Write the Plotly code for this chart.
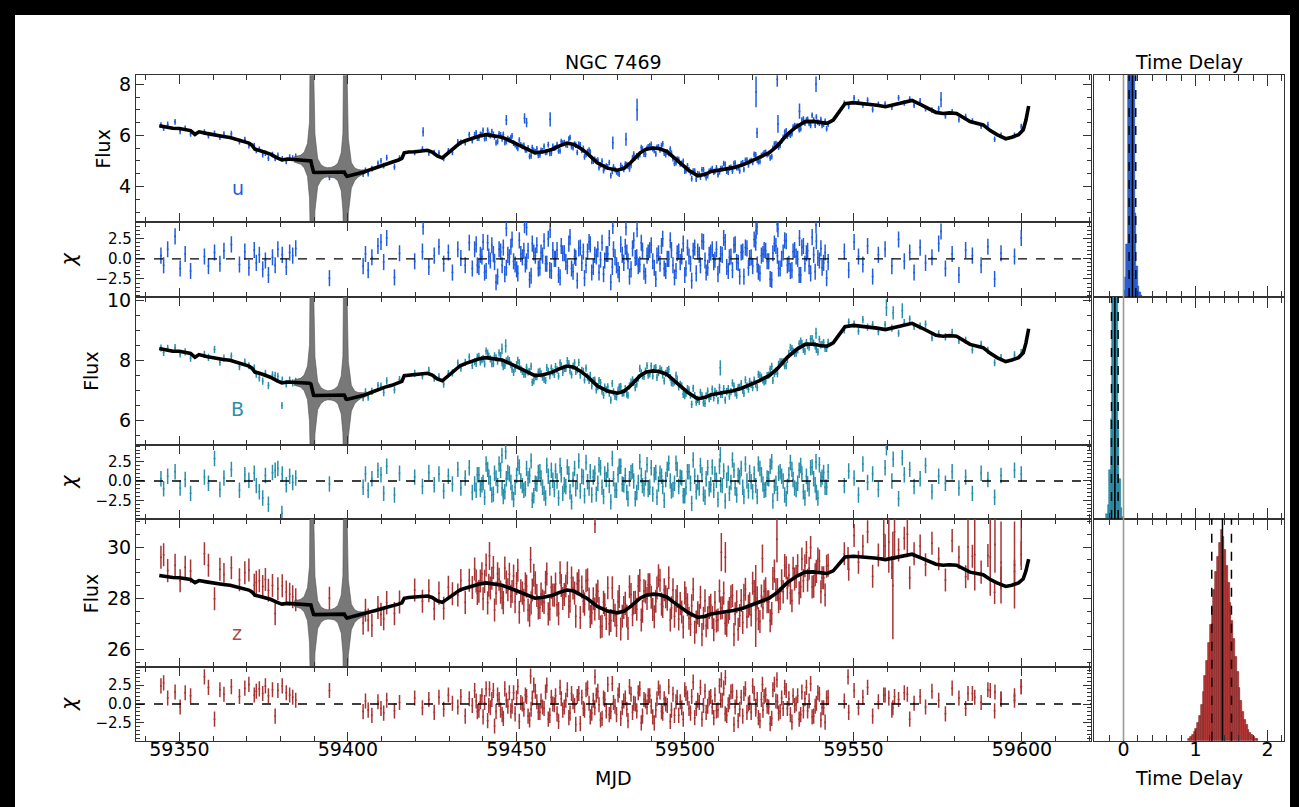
import plotly.graph_objects as go

W, H = 1299, 807
FONT = "DejaVu Sans"
AX = "#333333"

# ---------------- data: observation epochs (MJD) ----------------
T = [59344.5, 59345.3, 59346.5, 59348.7, 59350.2, 59351.7, 59353.3, 59357.4, 59358.6, 59360.4,
     59362.0, 59363.2, 59365.4, 59367.8, 59369.4, 59370.6, 59372.2, 59372.8, 59373.7, 59374.7,
     59375.5, 59376.4, 59377.6, 59378.4, 59379.2, 59380.5, 59381.7, 59382.7, 59383.6, 59384.5,
     59394.5,
     59404.5, 59405.2, 59406.0, 59407.1, 59408.9, 59409.8, 59410.6, 59411.5, 59413.8, 59415.3,
     59419.8, 59422.1, 59424.0, 59425.6, 59427.0, 59428.4, 59429.8, 59431.0, 59432.6, 59433.5,
     59434.8, 59436.0, 59436.9,
     59437.6, 59438.4, 59439.3, 59440.1, 59441.0, 59441.8, 59442.7, 59443.5, 59444.4, 59445.3,
     59446.1, 59447.0, 59447.9, 59448.7, 59449.6, 59450.4, 59451.3, 59452.2, 59453.0, 59453.9,
     59454.7, 59455.6, 59456.5, 59457.3, 59458.2, 59459.0, 59459.9, 59460.8, 59461.6, 59462.5,
     59463.3, 59464.2, 59465.1, 59465.9, 59466.8, 59467.6, 59468.5, 59469.4, 59470.2, 59471.1,
     59471.9, 59472.8, 59473.7, 59474.5, 59475.4, 59476.2, 59477.1, 59478.0, 59478.8, 59479.7,
     59480.5, 59481.4, 59482.3, 59483.1, 59484.0, 59484.8, 59485.7, 59486.6, 59487.4, 59488.3,
     59489.1, 59490.0, 59490.9, 59491.7, 59492.6, 59493.4, 59494.3, 59495.2, 59496.0, 59496.9,
     59497.7, 59498.6, 59499.5, 59500.3, 59501.2, 59502.0, 59502.9, 59503.8, 59504.6, 59505.5,
     59506.3, 59507.2, 59508.1, 59508.9, 59509.8, 59510.6, 59511.5, 59512.4, 59513.2, 59514.1,
     59514.9, 59515.8, 59516.7, 59517.5, 59518.4, 59519.2, 59520.1, 59521.0, 59521.8, 59522.7,
     59523.5, 59524.4, 59525.3, 59526.1, 59527.0, 59527.8, 59528.7, 59529.6, 59530.4, 59531.3,
     59532.1, 59533.0, 59533.9, 59534.7, 59535.6, 59536.4, 59537.3, 59538.2, 59539.0, 59539.9,
     59540.7, 59541.6, 59542.5,
     59547.3, 59548.6, 59550.2, 59551.5, 59552.8, 59554.2, 59555.7, 59557.4, 59559.4, 59561.4,
     59563.4, 59565.1, 59566.7, 59568.0, 59569.8, 59571.4, 59573.3, 59575.3, 59577.3, 59579.3,
     59581.3, 59583.3, 59585.3, 59587.9, 59589.9, 59591.9, 59593.8, 59597.8, 59599.8]
# second nightly visit during the intensive campaign
T2 = [59438.05, 59438.85, 59439.75, 59440.55, 59441.45, 59442.25, 59443.15, 59443.95, 59444.85, 59445.75,
      59446.55, 59447.45, 59448.35, 59449.15, 59450.05, 59450.85, 59451.75, 59452.65, 59453.45, 59454.35,
      59455.15, 59456.05, 59456.95, 59457.75, 59458.65, 59459.45, 59460.35, 59461.25, 59462.05, 59462.95,
      59463.75, 59464.65, 59465.55, 59466.35, 59467.25, 59468.05, 59468.95, 59469.85, 59470.65, 59471.55,
      59472.35, 59473.25, 59474.15, 59474.95, 59475.85, 59476.65, 59477.55, 59478.45, 59479.25, 59480.15,
      59480.95, 59481.85, 59482.75, 59483.55, 59484.45, 59485.25, 59486.15, 59487.05, 59487.85, 59488.75,
      59489.55, 59490.45, 59491.35, 59492.15, 59493.05, 59493.85, 59494.75, 59495.65, 59496.45, 59497.35,
      59498.15, 59499.05, 59499.95, 59500.75, 59501.65, 59502.45, 59503.35, 59504.25, 59505.05, 59505.95,
      59506.75, 59507.65, 59508.55, 59509.35, 59510.25, 59511.05, 59511.95, 59512.85, 59513.65, 59514.55,
      59515.35, 59516.25, 59517.15, 59517.95, 59518.85, 59519.65, 59520.55, 59521.45, 59522.25, 59523.15,
      59523.95, 59524.85, 59525.75, 59526.55, 59527.45, 59528.25, 59529.15, 59530.05, 59530.85, 59531.75,
      59532.55, 59533.45, 59534.35, 59535.15, 59536.05, 59536.85, 59537.75, 59538.65, 59539.45, 59540.35,
      59541.15, 59542.05]

# ---------------- u band ----------------
U_FLUX = [6.41, 6.28, 6.43, 6.53, 6.16, 6.28, 6.06, 6.13, 5.99, 6.08, 5.93, 6.05, 6.07, 5.76, 5.84,
          5.60, 5.60, 5.41, 5.46, 5.25, 5.31, 5.11, 5.25, 5.10, 5.22, 5.09, 4.98, 5.15, 5.11, 5.18,
          4.36,
          4.48, 4.64, 4.50, 4.70, 4.91, 5.01, 4.82, 5.13, 4.77, 5.11, 5.33, 5.47, 5.32, 5.33, 5.31,
          5.10, 5.40, 5.33, 5.75, 5.73, 5.72, 6.03, 5.79,
          6.03, 5.89, 6.04, 6.20, 5.89, 6.04, 6.15, 5.94, 5.76, 6.02,
          6.04, 5.76, 5.83, 5.98, 5.64, 5.49, 5.63, 5.61, 5.43, 5.18,
          5.53, 5.36, 5.22, 5.42, 5.57, 5.35, 5.30, 5.57, 5.52, 5.39,
          5.76, 5.72, 5.62, 5.92, 5.52, 5.62, 5.66, 5.41, 5.16, 5.37,
          5.35, 4.99, 5.00, 4.74, 5.00, 4.75, 4.77, 4.43, 4.77, 4.57,
          4.48, 4.74, 4.88, 4.80, 4.83, 5.27, 5.20, 5.25, 5.47, 5.26,
          5.55, 5.65, 5.41, 5.54, 5.43, 5.67, 5.25, 5.30, 5.31, 4.90,
          5.08, 4.89, 4.99, 4.62, 4.66, 4.31, 4.61, 4.50, 4.37, 4.66,
          4.35, 4.60, 4.70, 4.60, 4.46, 4.70, 4.90, 4.60, 4.73, 4.60,
          4.92, 4.74, 4.90, 4.67, 5.04, 4.98, 4.94, 5.24, 4.97, 5.21,
          5.32, 5.25, 5.12, 5.50, 5.68, 5.54, 5.79, 6.13, 5.97, 6.01,
          6.33, 6.36, 6.22, 6.60, 6.48, 6.63, 6.39, 6.60, 6.72, 6.48,
          6.39, 6.55, 6.44,
          7.26, 7.13, 7.47, 7.30, 7.19, 7.38, 7.01, 7.22, 7.23, 7.10, 7.47, 7.27, 7.42, 7.18, 7.35,
          7.05, 6.99, 7.05, 6.76, 6.92, 6.62, 6.74, 6.56, 6.36, 6.42, 5.85, 6.00, 6.00, 6.35]
U_CHI = [0.4, -0.8, 1.2, 2.8, -1.2, 0.6, -1.5, 0.3, -0.9, 0.8, -0.6, 1.0, 1.8, -0.7, 0.9,
         -1.1, 1.1, -0.5, 0.5, -1.3, -0.2, -2.0, 0.2, -0.8, 1.2, 0.5, -1.0, 0.8, 0.4, 1.3,
         -2.4,
         -0.9, 0.6, -1.4, 0.2, 1.6, 2.1, -0.4, 2.6, -2.3, 0.7, -0.3, 0.9, -1.0, 0.4, 1.5,
         -0.6, 0.8, -1.7, 1.2, 0.1, -0.8, 2.0, -1.2,
         1.2, -0.8, 0.5, 2.1, -1.5, 0.3, 1.7, -0.4, -2.2, 0.9,
         1.4, -1.1, 0.2, 2.4, -0.7, -1.8, 0.6, 1.0, -0.3, -2.6,
         1.9, 0.4, -1.2, 0.8, 2.2, -0.6, -1.4, 1.1, 0.0, -2.0,
         1.6, 0.7, -0.9, 2.7, -1.6, 0.1, 1.3, -0.5, -2.4, 0.9,
         1.8, -1.0, 0.3, -1.7, 2.0, -0.2, 0.6, -2.9, 1.2, -0.8,
         -1.9, 0.5, 1.5, -0.3, -1.3, 2.3, 0.2, -0.7, 1.0, -2.1,
         0.8, 1.7, -1.1, 0.4, -0.6, 2.5, -1.5, 0.0, 1.1, -2.3,
         0.7, -0.4, 1.9, -1.2, 0.3, -2.7, 1.4, 0.9, -0.8, 2.1,
         -1.7, 0.5, 1.2, -0.1, -1.9, 0.6, 2.6, -1.0, 0.2, -1.4,
         1.8, -0.5, 0.8, -2.2, 1.3, 0.1, -0.9, 2.0, -1.6, 0.4,
         1.1, -0.3, -2.5, 0.7, 1.6, -1.2, 0.0, 2.3, -0.8, -1.5,
         0.9, 0.3, -2.0, 1.4, -0.6, 1.0, -1.8, 0.5, 2.2, -0.2,
         -1.1, 0.8, -0.4,
         0.9, -1.4, 2.1, 0.3, -0.7, 1.6, -2.2, 0.5, 1.2, -0.9, 2.4, -0.3, 0.8, -1.7, 1.4,
         -0.5, 0.2, 1.9, -1.2, 0.6, -2.0, 1.1, 0.4, -0.8, 1.5, -2.5, 0.7, 0.3, 2.6]
U2_FLUX = [6.10, 5.89, 6.03, 5.87, 6.20, 5.99, 6.04, 5.71, 6.06, 5.86,
           5.72, 5.88, 5.92, 5.70, 5.56, 5.82, 5.57, 5.43, 5.52, 5.20,
           5.41, 5.48, 5.24, 5.40, 5.33, 5.64, 5.31, 5.50, 5.64, 5.39,
           5.70, 5.64, 5.86, 5.56, 5.66, 5.33, 5.63, 5.50, 5.26, 5.43,
           4.98, 5.07, 5.04, 4.85, 4.62, 4.80, 4.94, 4.59, 4.67, 4.52,
           4.83, 4.67, 4.86, 4.69, 5.12, 5.13, 5.16, 5.53, 5.27, 5.50,
           5.59, 5.48, 5.28, 5.55, 5.60, 5.31, 5.35, 5.47, 5.09, 4.93,
           5.06, 4.91, 4.60, 4.81, 4.54, 4.61, 4.29, 4.48, 4.66, 4.47,
           4.43, 4.64, 4.56, 4.73, 4.57, 4.71, 4.87, 4.56, 4.75, 4.90,
           4.74, 4.61, 4.93, 5.03, 4.85, 5.02, 5.26, 5.03, 4.98, 5.25,
           5.34, 5.29, 5.17, 5.66, 5.64, 5.61, 5.93, 6.18, 6.05, 6.07,
           6.39, 6.37, 6.26, 6.64, 6.60, 6.47, 6.79, 6.40, 6.52, 6.62,
           6.44, 6.26]
U2_CHI = [1.8, -1.0, 0.3, -1.7, 2.0, -0.2, 0.6, -2.9, 1.2, -0.8,
          -1.9, 0.5, 1.5, -0.3, -1.3, 2.3, 0.2, -0.7, 1.0, -2.1,
          0.8, 1.7, -1.1, 0.4, -0.6, 2.5, -1.5, 0.0, 1.1, -2.3,
          0.7, -0.4, 1.9, -1.2, 0.3, -2.7, 1.4, 0.9, -0.8, 2.1,
          -1.7, 0.5, 1.2, -0.1, -1.9, 0.6, 2.6, -1.0, 0.2, -1.4,
          1.8, -0.5, 0.8, -2.2, 1.3, 0.1, -0.9, 2.0, -1.6, 0.4,
          1.1, -0.3, -2.5, 0.7, 1.6, -1.2, 0.0, 2.3, -0.8, -1.5,
          0.9, 0.3, -2.0, 1.4, -0.6, 1.0, -1.8, 0.5, 2.2, -0.2,
          -1.1, 0.8, -0.4, 1.2, -0.8, 0.5, 2.1, -1.5, 0.3, 1.7,
          -0.4, -2.2, 0.9, 1.4, -1.1, 0.2, 2.4, -0.7, -1.8, 0.6,
          1.0, -0.3, -2.6, 1.9, 0.4, -1.2, 0.8, 2.2, -0.6, -1.4,
          1.1, 0.0, -2.0, 1.6, 0.7, -0.9, 2.7, -1.6, 0.1, 1.3,
          -0.5, -2.4]
U_ERR = 0.11
U_OUT_T = [59422.3, 59447.0, 59452.4, 59453.0, 59460.0, 59478.6, 59482.5, 59485.8, 59521.1, 59521.4,
           59527.4, 59527.6, 59534.0, 59538.9, 59576.0]
U_OUT_F = [6.14, 6.60, 6.67, 6.50, 6.63, 5.71, 5.85, 7.00, 7.70, 6.10, 8.20, 6.45, 6.95, 8.00, 7.40]
U_OUT_E = [0.18, 0.20, 0.20, 0.18, 0.28, 0.25, 0.25, 0.43, 0.60, 0.20, 0.30, 0.35, 0.30, 0.30, 0.30]
U_OUT_C = [4.0, 3.8, 4.2, 3.9, 3.6, 4.1, 3.9, 3.7, 3.5, 4.0, 4.3, 3.7, 2.6, 4.2, 3.4]

# ---------------- B band ----------------
B_FLUX = [8.41, 8.26, 8.40, 8.42, 8.21, 8.28, 8.07, 8.20, 8.10, 8.36, 7.94, 8.07, 8.14, 7.79, 7.94,
          7.82, 7.74, 7.54, 7.42, 7.31, 7.57, 7.16, 7.52, 7.50, 7.47, 7.34, 7.22, 7.34, 7.25, 7.30,
          6.80,
          6.76, 6.95, 6.78, 6.97, 7.16, 7.14, 6.93, 7.32, 7.02, 7.36, 7.57, 7.48, 7.67, 7.41, 7.45,
          7.21, 7.56, 7.58, 7.91, 7.74, 7.93, 8.11, 7.83,
          7.96, 8.11, 7.95, 8.06, 8.31, 8.13, 7.89, 8.15, 7.97, 8.16,
          7.79, 7.98, 7.99, 7.71, 7.73, 8.00, 7.71, 7.54, 7.77, 7.63,
          7.27, 7.46, 7.61, 7.55, 7.37, 7.76, 7.49, 7.62, 7.79, 7.48,
          7.82, 7.73, 7.99, 7.65, 7.80, 7.63, 7.93, 7.67, 7.35, 7.45,
          7.50, 7.33, 7.02, 7.33, 6.98, 7.11, 7.12, 6.68, 6.95, 6.79,
          7.11, 6.91, 7.06, 6.84, 7.28, 7.27, 7.22, 7.73, 7.48, 7.64,
          7.51, 7.81, 7.73, 7.43, 7.72, 7.52, 7.57, 7.70, 7.26, 7.28,
          7.38, 7.20, 6.87, 6.90, 7.02, 6.54, 6.83, 6.70, 6.94, 6.59,
          6.82, 6.73, 7.04, 6.97, 6.66, 6.87, 7.06, 6.96, 6.81, 7.25,
          6.92, 7.10, 7.23, 6.90, 7.15, 7.30, 7.09, 7.21, 7.53, 7.44,
          7.28, 7.49, 7.70, 7.33, 7.64, 7.87, 7.95, 7.82, 8.03, 8.43,
          8.30, 8.24, 8.55, 8.56, 8.30, 8.49, 8.71, 8.57, 8.36, 8.70,
          8.53, 8.40, 8.60,
          9.01, 9.27, 9.20, 8.97, 9.35, 9.10, 9.19, 8.95, 9.19, 9.07, 8.90, 9.25, 9.37, 9.13, 9.14,
          9.20, 8.75, 8.88, 8.78, 8.93, 8.66, 8.66, 8.35, 8.53, 8.33, 7.92, 8.09, 8.18, 8.26]
B_CHI = [0.3, -1.0, 0.6, 1.2, -0.9, 0.2, -1.6, 0.5, -0.3, 2.9, -1.1, 0.4, 1.5, -1.2, 0.8,
         0.1, 1.0, -0.6, -1.4, -2.2, 0.7, -3.0, 1.1, 1.4, 1.6, 0.9, -0.5, 0.6, -0.2, 0.4,
         -0.4,
         -0.8, 0.9, -1.2, 0.3, 1.4, 0.8, -1.6, 1.9, -1.8, 1.0, 0.5, -0.7, 1.1, -0.5, 0.9,
         -1.3, 0.6, -0.4, 1.5, -0.9, 0.4, 1.7, -1.5,
         -0.4, 0.8, -1.1, -0.2, 2.2, 0.5, -1.8, 1.0, -0.6, 1.4,
         -2.0, 0.3, 0.9, -1.5, -0.8, 2.3, 0.0, -1.2, 1.6, 0.7,
         -2.5, -0.3, 1.1, 0.4, -1.6, 2.0, -0.9, 0.1, 1.3, -2.2,
         0.8, -0.5, 1.8, -1.4, 0.2, -1.0, 2.6, 0.6, -1.9, -0.1,
         1.2, 0.5, -1.7, 2.1, -0.8, 0.9, 1.4, -2.7, 0.3, -1.2,
         1.9, -0.4, 0.7, -2.3, 1.1, 0.0, -1.5, 2.5, -0.6, 0.4,
         -1.1, 1.7, 0.8, -2.1, 1.0, -0.7, 0.2, 2.3, -1.3, -0.3,
         1.5, 0.5, -1.9, -0.8, 1.2, -2.9, 0.6, -0.2, 2.0, -1.7,
         0.3, -1.0, 1.8, 0.9, -2.4, -0.5, 1.3, 0.1, -1.6, 2.7,
         -0.9, 0.7, 1.6, -2.0, 0.0, 1.1, -1.4, -0.6, 2.2, 0.8,
         -1.2, 0.4, 1.9, -2.6, -0.3, 1.0, 0.6, -1.8, -0.7, 2.4,
         0.2, -1.1, 1.4, 0.9, -2.2, -0.4, 1.7, 0.3, -1.5, 2.1,
         0.5, -0.8, 1.2,
         -0.6, 1.3, 0.4, -1.8, 2.2, -0.2, 0.9, -1.1, 1.7, 0.0, -2.3, 0.8, 1.5, -0.7, 0.3,
         2.0, -1.4, 0.6, -0.3, 1.2, -0.9, 0.5, -1.6, 1.0, 0.2, -2.1, 0.7, 1.4, 0.9]
B2_FLUX = [7.90, 8.13, 8.02, 7.88, 8.24, 8.05, 7.89, 8.08, 8.25, 7.92,
           7.83, 8.04, 7.86, 7.60, 7.86, 7.92, 7.63, 7.54, 7.62, 7.80,
           7.32, 7.46, 7.63, 7.44, 7.33, 7.63, 7.74, 7.53, 7.68, 7.92,
           7.60, 7.73, 7.89, 7.52, 7.92, 7.69, 7.51, 7.63, 7.74, 7.33,
           7.15, 7.34, 7.13, 7.26, 6.84, 7.02, 6.91, 7.23, 6.80, 7.00,
           7.13, 6.92, 6.88, 7.15, 7.35, 7.09, 7.41, 7.58, 7.47, 7.82,
           7.55, 7.48, 7.76, 7.59, 7.67, 7.32, 7.66, 7.43, 7.24, 7.50,
           7.12, 7.15, 6.83, 7.06, 6.84, 7.07, 6.61, 6.64, 6.83, 6.57,
           6.98, 6.80, 6.75, 6.90, 7.10, 6.87, 6.68, 7.06, 6.96, 7.14,
           6.84, 7.10, 7.01, 7.35, 7.04, 7.20, 7.34, 7.09, 7.50, 7.34,
           7.32, 7.51, 7.80, 7.56, 7.56, 7.95, 7.95, 7.82, 8.23, 8.39,
           8.23, 8.35, 8.64, 8.36, 8.59, 8.44, 8.72, 8.48, 8.28, 8.51,
           8.59, 8.40]
B2_CHI = [-1.2, 0.8, -0.5, -2.1, 1.5, -0.3, -1.7, 0.4, 2.2, -0.9,
          -1.4, 1.1, -0.2, -2.4, 0.7, 1.8, -0.6, -1.0, 0.3, 2.6,
          -1.9, -0.4, 1.2, -0.8, -2.2, 0.6, 1.4, -1.1, 0.0, 2.0,
          -1.6, -0.7, 0.9, -2.7, 1.6, -0.1, -1.3, 0.5, 2.4, -0.9,
          -1.8, 1.0, -0.3, 1.7, -2.0, 0.2, -0.6, 2.9, -1.2, 0.8,
          1.9, -0.5, -1.5, 0.3, 1.3, -2.3, -0.2, 0.7, -1.0, 2.1,
          -0.8, -1.7, 1.1, -0.4, 0.6, -2.5, 1.5, 0.0, -1.1, 2.3,
          -0.7, 0.4, -1.9, 1.2, -0.3, 2.7, -1.4, -0.9, 0.8, -2.1,
          1.7, -0.5, -1.2, 0.1, 1.9, -0.6, -2.6, 1.0, -0.2, 1.4,
          -1.8, 0.5, -0.8, 2.2, -1.3, -0.1, 0.9, -2.0, 1.6, -0.4,
          -1.1, 0.3, 2.5, -0.7, -1.6, 1.2, 0.0, -2.3, 0.8, 1.5,
          -0.9, -0.3, 2.0, -1.4, 0.6, -1.0, 1.8, -0.5, -2.2, 0.2,
          1.1, -0.8]
B_ERR = 0.12
B_OUT_T = [59380.4, 59445.7, 59446.8, 59510.5, 59538.9, 59559.8, 59561.8, 59564.5]
B_OUT_F = [6.50, 8.38, 8.48, 7.75, 8.90, 9.75, 9.58, 9.65]
B_OUT_E = [0.12, 0.18, 0.22, 0.25, 0.18, 0.28, 0.22, 0.25]
B_OUT_C = [-4.2, 3.3, 3.8, 3.4, 2.5, 4.3, 2.8, 3.0]

# ---------------- z band ----------------
Z_FLUX = [29.60, 29.70, 29.08, 29.29, 28.68, 29.21, 29.06, 29.74, 29.29, 27.98, 29.13, 28.93, 29.19,
          28.72, 29.00, 29.10, 28.51, 28.62, 28.68, 28.46, 28.73, 28.31, 28.50, 27.40, 28.37, 28.49,
          28.24, 28.16, 28.06, 27.94,
          28.00,
          27.02, 27.53, 27.15, 26.94, 27.64, 27.37, 27.20, 27.83, 27.40, 27.85, 28.32, 27.88, 28.29,
          27.59, 28.20, 27.61, 28.43, 28.18, 28.13, 28.69, 27.84, 28.70, 28.42,
          29.14, 28.19, 28.67, 27.98, 29.30, 28.51, 28.78, 27.54, 28.96, 28.24,
          27.83, 28.63, 28.94, 28.26, 27.86, 29.09, 28.29, 27.92, 28.47, 27.34,
          28.32, 28.60, 27.62, 28.17, 27.84, 28.95, 27.57, 28.13, 28.56, 27.40,
          28.50, 28.15, 28.99, 27.88, 28.40, 27.30, 28.68, 28.44, 27.77, 28.72,
          27.29, 27.98, 28.13, 27.60, 26.91, 27.75, 28.41, 27.13, 27.52, 26.94,
          28.07, 27.30, 27.80, 26.82, 28.15, 27.83, 27.57, 28.69, 27.49, 28.25,
          28.53, 28.04, 27.28, 28.40, 28.70, 27.68, 28.06, 28.80, 27.63, 27.30,
          28.07, 27.79, 26.88, 28.00, 27.22, 27.71, 26.67, 27.43, 28.04, 27.22,
          26.93, 27.64, 27.25, 27.83, 27.15, 27.62, 28.20, 26.95, 27.60, 28.11,
          27.39, 26.79, 27.91, 28.12, 27.28, 27.78, 28.59, 27.54, 27.20, 28.09,
          28.27, 27.86, 27.12, 28.77, 28.33, 27.86, 28.68, 29.28, 28.40, 28.21,
          29.17, 28.85, 28.21, 29.53, 29.27, 28.70, 29.98, 28.47, 29.05, 29.45,
          28.80, 28.13, 29.29,
          29.74, 29.13, 30.45, 29.41, 30.03, 30.60, 28.86, 29.69, 30.05, 29.20, 29.89, 30.34, 28.80,
          29.74, 30.04, 29.31, 30.15, 29.54, 28.71, 30.25, 29.60, 28.84, 29.64, 29.02, 29.67, 28.23,
          28.79, 29.05, 29.71]
Z_CHI = [2.4, 2.8, 0.8, 1.6, -0.4, 1.5, 1.1, 3.6, 2.2, -2.0, 1.9, 1.3, 2.3, 1.0, 2.1,
         2.6, 1.2, 1.7, 2.0, 1.4, 2.4, 1.1, 1.9, -1.6, 1.8, 2.4, 1.5, 1.2, 0.9, 0.5,
         1.8,
         -1.0, 0.4, -0.8, -1.5, 0.3, -0.6, -1.2, 0.5, -0.9, 0.2, 0.8, -0.5, 0.6, -1.1, 0.9,
         -0.7, 1.2, 0.1, -0.4, 1.0, -1.6, 0.7, -0.2,
         1.8, -1.0, 0.3, -1.7, 2.0, -0.2, 0.6, -2.9, 1.2, -0.8,
         -1.9, 0.5, 1.5, -0.3, -1.3, 2.3, 0.2, -0.7, 1.0, -2.1,
         0.8, 1.7, -1.1, 0.4, -0.6, 2.5, -1.5, 0.0, 1.1, -2.3,
         0.7, -0.4, 1.9, -1.2, 0.3, -2.7, 1.4, 0.9, -0.8, 2.1,
         -1.7, 0.5, 1.2, -0.1, -1.9, 0.6, 2.6, -1.0, 0.2, -1.4,
         1.8, -0.5, 0.8, -2.2, 1.3, 0.1, -0.9, 2.0, -1.6, 0.4,
         1.1, -0.3, -2.5, 0.7, 1.6, -1.2, 0.0, 2.3, -0.8, -1.5,
         0.9, 0.3, -2.0, 1.4, -0.6, 1.0, -1.8, 0.5, 2.2, -0.2,
         -1.1, 0.8, -0.4, 1.2, -0.8, 0.5, 2.1, -1.5, 0.3, 1.7,
         -0.4, -2.2, 0.9, 1.4, -1.1, 0.2, 2.4, -0.7, -1.8, 0.6,
         1.0, -0.3, -2.6, 1.9, 0.4, -1.2, 0.8, 2.2, -0.6, -1.4,
         1.1, 0.0, -2.0, 1.6, 0.7, -0.9, 2.7, -1.6, 0.1, 1.3,
         -0.5, -2.4, 0.9,
         0.4, -1.1, 1.8, -0.5, 0.9, 2.2, -1.6, 0.3, 1.2, -0.8, 0.6, 1.5, -2.0, 0.1, 1.0,
         -0.4, 1.7, 0.5, -1.3, 2.1, 0.8, -0.6, 1.4, 0.2, 1.9, -0.9, 0.6, 1.1, 2.3]
Z2_FLUX = [28.67, 28.27, 28.96, 28.66, 27.82, 28.40, 29.20, 28.20, 28.74, 28.02,
           29.18, 28.33, 28.08, 28.87, 28.58, 27.45, 28.20, 28.57, 27.54, 27.82,
           28.90, 28.11, 27.64, 27.90, 28.62, 27.39, 28.43, 28.12, 27.74, 29.00,
           27.99, 28.48, 27.68, 28.79, 28.20, 28.57, 27.25, 27.88, 28.68, 27.97,
           27.43, 27.58, 28.27, 26.88, 27.84, 27.21, 27.00, 28.41, 27.34, 27.86,
           26.80, 27.64, 27.31, 28.45, 27.36, 27.84, 28.47, 27.15, 28.29, 27.99,
           28.53, 27.56, 27.88, 28.88, 27.77, 28.33, 27.96, 27.15, 28.33, 27.90,
           27.19, 27.46, 28.21, 27.75, 26.98, 28.35, 27.07, 27.33, 26.58, 27.90,
           27.24, 27.73, 26.77, 27.11, 28.28, 27.63, 27.02, 27.45, 28.06, 26.58,
           27.86, 27.33, 27.05, 28.35, 27.69, 27.35, 28.26, 28.02, 27.09, 27.62,
           28.37, 27.86, 27.40, 29.06, 28.34, 27.99, 28.25, 29.19, 28.90, 27.90,
           28.75, 29.27, 28.45, 28.68, 29.79, 29.17, 28.44, 28.92, 29.53, 28.25,
           28.80, 29.25]
Z2_CHI = [0.4, -0.8, 1.1, 0.2, -2.2, -0.5, 1.8, -1.0, 0.6, -1.4,
          2.0, -0.3, -0.9, 1.5, 0.8, -2.3, 0.0, 1.2, -1.6, -0.7,
          2.5, 0.3, -1.1, -0.4, 1.6, -2.0, 0.9, -0.1, -1.3, 2.2,
          -0.8, 0.5, -1.8, 1.4, -0.2, 1.0, -2.6, -0.6, 1.9, 0.1,
          -1.2, -0.5, 1.7, -2.1, 0.8, -0.9, -1.4, 2.7, -0.3, 1.2,
          -1.9, 0.4, -0.7, 2.3, -1.1, 0.0, 1.5, -2.5, 0.6, -0.4,
          1.1, -1.7, -0.8, 2.1, -1.0, 0.7, -0.2, -2.3, 1.3, 0.3,
          -1.5, -0.5, 1.9, 0.8, -1.2, 2.9, -0.6, 0.2, -2.0, 1.7,
          -0.3, 1.0, -1.8, -0.9, 2.4, 0.5, -1.3, -0.1, 1.6, -2.7,
          0.9, -0.7, -1.6, 2.0, 0.0, -1.1, 1.4, 0.6, -2.2, -0.8,
          1.2, -0.4, -1.9, 2.6, 0.3, -1.0, -0.6, 1.8, 0.7, -2.4,
          -0.2, 1.1, -1.4, -0.9, 2.2, 0.4, -1.7, -0.3, 1.5, -2.1,
          -0.5, 0.8]
Z_ERR = 0.45
Z_OUT_T = [59442.0, 59454.2, 59473.3, 59510.8, 59512.0, 59521.0, 59523.0, 59527.3, 59548.4, 59559.0,
           59560.5, 59561.7, 59562.2, 59566.0, 59584.0, 59586.0, 59590.6, 59592.0, 59593.8, 59597.8,
           59599.8]
Z_OUT_F = [29.65, 29.5, 30.9, 29.8, 29.6, 27.7, 29.55, 30.3, 29.55, 30.5, 30.2, 28.5, 30.6, 30.5,
           30.0, 29.7, 29.6, 30.1, 29.4, 29.3, 30.2]
Z_OUT_E = [0.55, 0.5, 0.35, 0.75, 0.6, 1.6, 0.55, 0.9, 0.45, 1.0, 1.2, 2.1, 1.1, 0.9, 1.3, 1.4,
           1.5, 1.1, 1.6, 1.7, 1.1]
Z_OUT_C = [2.0, 3.7, 3.6, 3.2, 3.5, -0.3, 2.6, 3.2, 3.6, 1.2, 0.8, -0.5, 1.0, 1.3, 1.4, 0.9,
           1.8, 1.6, 0.7, 0.5, 2.3]

# ---------------- model (mean light curve) ----------------
MODEL_T = [59344.0, 59346.0, 59348.0, 59350.0, 59352.0, 59353.3, 59354.6, 59355.8, 59358.0, 59360.0,
           59363.0, 59365.0, 59367.0, 59369.0, 59370.6, 59371.5, 59372.4, 59374.0, 59377.0, 59379.0,
           59380.4, 59382.0, 59384.0, 59386.0, 59387.0, 59388.0, 59388.6, 59389.0, 59389.25, 59389.4,
           59389.55, 59389.8, 59390.2, 59391.0, 59392.0, 59393.0, 59394.0, 59395.0, 59396.0, 59397.0,
           59398.0, 59398.5, 59398.9, 59399.15, 59399.3, 59399.45, 59399.7, 59400.1, 59401.0, 59402.0,
           59403.0, 59404.0, 59405.0, 59407.0, 59409.0, 59411.0, 59413.0, 59415.0, 59416.0, 59416.7,
           59418.0, 59420.0, 59422.0, 59423.6, 59425.0, 59426.5, 59428.0, 59429.6, 59431.0, 59433.3,
           59435.0, 59437.0, 59439.0, 59441.0, 59443.0, 59445.7, 59448.0, 59450.5, 59453.0, 59455.5,
           59458.0, 59460.5, 59463.0, 59465.0, 59467.0, 59469.0, 59471.0, 59474.0, 59477.0, 59480.0,
           59482.0, 59484.0, 59486.7, 59488.5, 59490.7, 59492.5, 59494.6, 59496.5, 59498.5, 59501.0,
           59503.8, 59506.0, 59507.8, 59511.0, 59514.4, 59517.0, 59519.8, 59522.0, 59525.0, 59527.5,
           59530.3, 59533.0, 59535.7, 59538.0, 59540.0, 59542.2, 59544.0, 59545.0, 59546.5, 59547.5,
           59550.0, 59554.2, 59557.0, 59559.5, 59562.0, 59565.0, 59567.4, 59570.0, 59572.7, 59574.5,
           59576.6, 59578.5, 59580.6, 59582.5, 59584.6, 59588.5, 59590.5, 59592.6, 59595.2, 59597.0,
           59599.0, 59600.4, 59601.2, 59602.0]
U_MODEL = [6.38, 6.32, 6.28, 6.27, 6.22, 6.19, 6.04, 6.14, 6.08, 6.02,
           5.96, 5.92, 5.85, 5.78, 5.70, 5.62, 5.46, 5.40, 5.27, 5.12,
           5.04, 5.08, 5.06, 5.05, 5.04, 5.04, 5.03, 5.00, 4.85, 4.75,
           4.60, 4.56, 4.55, 4.55, 4.55, 4.56, 4.56, 4.56, 4.57, 4.57,
           4.58, 4.58, 4.57, 4.50, 4.45, 4.41, 4.40, 4.41, 4.44, 4.48,
           4.52, 4.55, 4.58, 4.68, 4.78, 4.88, 4.95, 5.04, 5.10, 5.32,
           5.35, 5.36, 5.39, 5.42, 5.35, 5.20, 5.12, 5.31, 5.48, 5.71,
           5.80, 5.90, 5.98, 6.03, 5.99, 5.93, 5.80, 5.64, 5.46, 5.32,
           5.36, 5.45, 5.60, 5.70, 5.65, 5.50, 5.30, 4.93, 4.72, 4.64,
           4.72, 4.95, 5.32, 5.46, 5.51, 5.48, 5.38, 5.15, 4.94, 4.65,
           4.42, 4.48, 4.59, 4.66, 4.74, 4.84, 5.00, 5.12, 5.32, 5.60,
           6.03, 6.33, 6.54, 6.55, 6.50, 6.47, 6.60, 6.79, 7.10, 7.24,
           7.28, 7.24, 7.18, 7.12, 7.20, 7.30, 7.37, 7.20, 7.00, 6.90,
           6.86, 6.88, 6.86, 6.70, 6.54, 6.41, 6.20, 6.03, 5.87, 5.93,
           6.03, 6.22, 6.60, 7.15]
B_MODEL = [8.39, 8.34, 8.30, 8.30, 8.25, 8.23, 8.10, 8.19, 8.13, 8.08,
           8.03, 8.00, 7.94, 7.88, 7.81, 7.74, 7.61, 7.56, 7.44, 7.32,
           7.25, 7.28, 7.26, 7.26, 7.25, 7.25, 7.24, 7.21, 7.09, 7.00,
           6.87, 6.84, 6.83, 6.83, 6.83, 6.84, 6.84, 6.84, 6.85, 6.85,
           6.85, 6.85, 6.85, 6.79, 6.74, 6.71, 6.70, 6.71, 6.74, 6.77,
           6.80, 6.83, 6.85, 6.94, 7.03, 7.11, 7.17, 7.25, 7.30, 7.49,
           7.51, 7.52, 7.55, 7.57, 7.51, 7.38, 7.32, 7.48, 7.62, 7.82,
           7.90, 7.98, 8.05, 8.09, 8.06, 8.01, 7.90, 7.76, 7.61, 7.49,
           7.52, 7.60, 7.73, 7.81, 7.77, 7.64, 7.47, 7.15, 6.98, 6.91,
           6.98, 7.17, 7.49, 7.61, 7.65, 7.62, 7.54, 7.34, 7.16, 6.92,
           6.72, 6.77, 6.86, 6.92, 6.99, 7.08, 7.21, 7.32, 7.49, 7.73,
           8.09, 8.35, 8.53, 8.54, 8.49, 8.47, 8.58, 8.74, 9.00, 9.12,
           9.16, 9.12, 9.07, 9.02, 9.09, 9.17, 9.23, 9.09, 8.92, 8.83,
           8.80, 8.82, 8.80, 8.66, 8.53, 8.42, 8.24, 8.09, 7.96, 8.01,
           8.09, 8.25, 8.58, 9.05]
Z_MODEL = [28.89, 28.84, 28.81, 28.80, 28.76, 28.73, 28.61, 28.69, 28.64, 28.59,
           28.54, 28.51, 28.45, 28.39, 28.32, 28.25, 28.12, 28.07, 27.96, 27.84,
           27.77, 27.80, 27.79, 27.78, 27.77, 27.77, 27.76, 27.74, 27.61, 27.53,
           27.40, 27.37, 27.36, 27.36, 27.36, 27.37, 27.37, 27.37, 27.38, 27.38,
           27.38, 27.38, 27.38, 27.32, 27.27, 27.24, 27.23, 27.24, 27.27, 27.30,
           27.33, 27.36, 27.38, 27.47, 27.55, 27.63, 27.69, 27.77, 27.82, 28.00,
           28.03, 28.04, 28.06, 28.09, 28.03, 27.90, 27.84, 27.99, 28.14, 28.33,
           28.40, 28.49, 28.56, 28.60, 28.56, 28.51, 28.40, 28.27, 28.12, 28.00,
           28.04, 28.11, 28.24, 28.32, 28.28, 28.15, 27.99, 27.68, 27.50, 27.43,
           27.50, 27.69, 28.00, 28.12, 28.16, 28.14, 28.05, 27.86, 27.68, 27.44,
           27.25, 27.30, 27.39, 27.45, 27.52, 27.60, 27.74, 27.84, 28.00, 28.24,
           28.60, 28.85, 29.02, 29.03, 28.99, 28.97, 29.07, 29.23, 29.49, 29.61,
           29.64, 29.61, 29.56, 29.51, 29.58, 29.66, 29.72, 29.58, 29.41, 29.33,
           29.29, 29.31, 29.29, 29.16, 29.02, 28.92, 28.74, 28.60, 28.46, 28.51,
           28.60, 28.76, 29.07, 29.53]

# model uncertainty (half width) across the seasonal gap 59384-59405
GAP_START, GAP_END = 59384.0, 59405.0
U_GAP_HW = [0.10, 0.18, 0.30, 0.65, 1.50, 4.2, 12, 12, 12, 4.2, 1.50, 0.55, 0.30, 0.21, 0.18, 0.19,
            0.23, 0.34, 0.74, 1.50, 4.2, 12, 12, 12, 4.2, 1.48, 0.50, 0.25, 0.15, 0.10, 0.08]
B_GAP_HW = [0.085, 0.15, 0.26, 0.56, 1.28, 3.6, 10, 10, 10, 3.6, 1.28, 0.47, 0.26, 0.18, 0.15, 0.16,
            0.2, 0.29, 0.63, 1.28, 3.6, 10, 10, 10, 3.6, 1.26, 0.43, 0.21, 0.13, 0.085, 0.07]
Z_GAP_HW = [0.10, 0.18, 0.30, 0.65, 1.50, 4.2, 12, 12, 12, 4.2, 1.50, 0.55, 0.30, 0.21, 0.18, 0.19,
            0.23, 0.34, 0.74, 1.50, 4.2, 12, 12, 12, 4.2, 1.48, 0.50, 0.25, 0.15, 0.10, 0.08]

# ---------------- time-delay posteriors ----------------
U_HIST_X = [0.01, 0.03, 0.05, 0.07, 0.09, 0.11, 0.13, 0.15, 0.17, 0.19, 0.21, 0.23, 0.25]
U_HIST_Y = [3, 9, 24, 140, 260, 330, 310, 160, 38, 14, 5, 2, 1]
B_HIST_X = [-0.23, -0.21, -0.19, -0.17, -0.15, -0.13, -0.11, -0.09, -0.07, -0.05, -0.03, -0.01]
B_HIST_Y = [2, 6, 22, 45, 200, 330, 320, 190, 40, 18, 5, 1]
Z_HIST_X = [0.9125, 0.9375, 0.9625, 0.9875, 1.0125, 1.0375, 1.0625, 1.0875, 1.1125, 1.1375,
            1.1625, 1.1875, 1.2125, 1.2375, 1.2625, 1.2875, 1.3125, 1.3375, 1.3625, 1.3875,
            1.4125, 1.4375, 1.4625, 1.4875, 1.5125, 1.5375, 1.5625, 1.5875, 1.6125, 1.6375,
            1.6625, 1.6875, 1.7125, 1.7375, 1.7625, 1.7875, 1.8125, 1.8375, 1.8625]
Z_HIST_Y = [1, 1.5, 2.5, 4, 5.5, 8, 11, 16, 22, 29, 36, 44, 52, 60, 68, 76, 83, 89, 95, 92,
            86, 79, 71, 62, 54, 46, 38, 31, 24, 18, 13, 9.5, 7, 5, 3.5, 2.5, 1.5, 1, 0.6]
U_DELAY = [0.078, 0.125, 0.17]      # 16th, 50th, 84th percentile
B_DELAY = [-0.167, -0.12, -0.075]
Z_DELAY = [1.226, 1.375, 1.5]

for lst in (U_FLUX, U_CHI, B_FLUX, B_CHI, Z_FLUX, Z_CHI):
    assert len(lst) == len(T), len(lst)
for lst in (U2_FLUX, U2_CHI, B2_FLUX, B2_CHI, Z2_FLUX, Z2_CHI):
    assert len(lst) == len(T2), len(lst)
for lst in (U_MODEL, B_MODEL, Z_MODEL):
    assert len(lst) == len(MODEL_T)

# ---------------- styling / layout (pixel geometry) ----------------
U_COL, B_COL, Z_COL = "#1f5ce0", "#2a8fab", "#a83434"
LEFT = (136, 1091)
RIGHT = (1094, 1284)
ROWS = [(68, 216), (216, 292), (292, 441), (441, 516), (516, 666), (666, 740)]
HROWS = [(68, 292), (292, 516), (516, 740)]


def pxx(x):
    return x / W


def pxy(y):
    return 1 - y / H


def xdom(a):
    return [pxx(a[0]), pxx(a[1])]


def ydom(r):
    return [pxy(r[1]), pxy(r[0])]


def ax_name(i, kind):
    return kind if i == 1 else f"{kind}{i}"


fig = go.Figure()

bands = [
    (U_FLUX, U_CHI, U2_FLUX, U2_CHI, U_ERR, U_OUT_T, U_OUT_F, U_OUT_E, U_OUT_C, U_MODEL, U_GAP_HW, U_COL),
    (B_FLUX, B_CHI, B2_FLUX, B2_CHI, B_ERR, B_OUT_T, B_OUT_F, B_OUT_E, B_OUT_C, B_MODEL, B_GAP_HW, B_COL),
    (Z_FLUX, Z_CHI, Z2_FLUX, Z2_CHI, Z_ERR, Z_OUT_T, Z_OUT_F, Z_OUT_E, Z_OUT_C, Z_MODEL, Z_GAP_HW, Z_COL),
]

gap_idx = [i for i, t in enumerate(MODEL_T) if GAP_START <= t <= GAP_END]
gap_t = [MODEL_T[i] for i in gap_idx]

for k, (flux, chi, flux2, chi2, err, ot, of, oe, oc, model, hw, col) in enumerate(bands):
    fi, ci = 2 * k + 1, 2 * k + 2
    xf, yf = ax_name(fi, "x"), ax_name(fi, "y")
    xc, yc = ax_name(ci, "x"), ax_name(ci, "y")
    eb = dict(color=col, thickness=1.5, width=0)
    mk = dict(size=2, color=col)
    for tx, fy in ((T, flux), (T2, flux2)):
        fig.add_trace(go.Scatter(x=tx, y=fy, mode="markers", marker=mk,
                                 error_y=dict(type="constant", value=err, **eb),
                                 xaxis=xf, yaxis=yf, hoverinfo="skip"))
    fig.add_trace(go.Scatter(x=ot, y=of, mode="markers", marker=mk,
                             error_y=dict(type="data", array=oe, **eb),
                             xaxis=xf, yaxis=yf, hoverinfo="skip"))
    gm = [model[i] for i in gap_idx]
    up = [m + w for m, w in zip(gm, hw)]
    lo = [m - w for m, w in zip(gm, hw)]
    fig.add_trace(go.Scatter(x=gap_t + gap_t[::-1], y=up + lo[::-1], mode="lines",
                             fill="toself", fillcolor="rgba(105,105,105,0.9)",
                             line=dict(color="rgba(80,80,80,1)", width=0.6),
                             xaxis=xf, yaxis=yf, hoverinfo="skip"))
    fig.add_trace(go.Scatter(x=MODEL_T, y=model, mode="lines", line=dict(color="black", width=3.6),
                             xaxis=xf, yaxis=yf, hoverinfo="skip"))
    for tx, cy in ((T, chi), (T2, chi2), (ot, oc)):
        fig.add_trace(go.Scatter(x=tx, y=cy, mode="markers", marker=mk,
                                 error_y=dict(type="constant", value=1.0, **eb),
                                 xaxis=xc, yaxis=yc, hoverinfo="skip"))

hists = [
    (U_HIST_X, U_HIST_Y, 0.02, U_DELAY, "#2a63dc", "#1b4fc0", [0, 100]),
    (B_HIST_X, B_HIST_Y, 0.02, B_DELAY, "#3196b0", "#1f7a93", [0, 100]),
    (Z_HIST_X, Z_HIST_Y, 0.025, Z_DELAY, "#b83b3b", "#7e2020", [0, 100]),
]
shapes = [dict(type="rect", xref="paper", yref="paper", x0=pxx(15), x1=pxx(1290),
               y0=pxy(807), y1=pxy(7), fillcolor="white", line=dict(width=0), layer="below")]
for j, (hx, hy, bw, dl, fc, lc, yr) in enumerate(hists):
    i = 7 + j
    xa, ya = ax_name(i, "x"), ax_name(i, "y")
    fig.add_trace(go.Bar(x=hx, y=hy, width=bw, marker=dict(color=fc, line=dict(color=lc, width=0.6)),
                         xaxis=xa, yaxis=ya, hoverinfo="skip"))
    shapes.append(dict(type="line", xref=xa, yref=f"{ya} domain", x0=0, x1=0, y0=0, y1=1,
                       line=dict(color="#9a9a9a", width=1.6)))
    for v, dash in ((dl[0], "dash"), (dl[1], "solid"), (dl[2], "dash")):
        shapes.append(dict(type="line", xref=xa, yref=f"{ya} domain", x0=v, x1=v, y0=0, y1=1,
                           line=dict(color="black", width=1.5, dash=dash)))

for ci in (2, 4, 6):
    shapes.append(dict(type="line", xref=f"{ax_name(ci, 'x')} domain", yref=ax_name(ci, "y"),
                       x0=0, x1=1, y0=0, y1=0, line=dict(color="black", width=1.4, dash="dash")))

tickfont = dict(family=FONT, size=19, color="black")


def base_axis(**kw):
    d = dict(showline=True, linecolor=AX, linewidth=1.2, mirror="allticks", ticks="inside",
             ticklen=9, tickwidth=1.2, tickcolor=AX, showgrid=False, zeroline=False,
             tickfont=tickfont, fixedrange=True)
    d.update(kw)
    return d


layout = dict(width=W, height=H, margin=dict(l=0, r=0, t=0, b=0), paper_bgcolor="black",
              plot_bgcolor="white", showlegend=False, bargap=0, shapes=shapes,
              font=dict(family=FONT, size=19, color="black"))

XR = [59337.1, 59620.5]
YR = {1: [2.62, 8.35], 2: [-4.75, 4.6], 3: [5.2, 10.1], 4: [-4.9, 4.7], 5: [25.3, 31.1], 6: [-4.85, 4.85]}
for i in range(1, 7):
    xn = "xaxis" if i == 1 else f"xaxis{i}"
    yn = "yaxis" if i == 1 else f"yaxis{i}"
    layout[xn] = base_axis(domain=xdom(LEFT), range=XR, anchor=ax_name(i, "y"), tick0=0, dtick=50,
                           tickformat="d", showticklabels=(i == 6), ticklabelstandoff=-9,
                           minor=dict(ticks="inside", ticklen=5, tickwidth=1, tickcolor=AX,
                                      tick0=0, dtick=10, showgrid=False))
    if i % 2 == 1:
        layout[yn] = base_axis(domain=ydom(ROWS[i - 1]), range=YR[i], anchor=ax_name(i, "x"),
                               tick0=0, dtick=2, ticklen=8,
                               minor=dict(ticks="inside", ticklen=4, tickwidth=1, tickcolor=AX,
                                          tick0=0, dtick=0.5, showgrid=False))
    else:
        layout[yn] = base_axis(domain=ydom(ROWS[i - 1]), range=YR[i], anchor=ax_name(i, "x"),
                               tick0=0, dtick=2.5, tickformat=".1f", ticklen=8,
                               tickfont=dict(family=FONT, size=15, color="black"),
                               minor=dict(ticks="inside", ticklen=4, tickwidth=1, tickcolor=AX,
                                          tick0=0, dtick=0.5, showgrid=False))
for j in range(3):
    i = 7 + j
    layout[f"xaxis{i}"] = base_axis(domain=xdom(RIGHT), range=[-0.41, 2.23], anchor=f"y{i}", tick0=0,
                                    dtick=1, ticklen=11, showticklabels=(j == 2), ticklabelstandoff=-9,
                                    minor=dict(ticks="inside", ticklen=6, tickwidth=1, tickcolor=AX,
                                               tick0=0, dtick=0.2, showgrid=False))
    layout[f"yaxis{i}"] = base_axis(domain=ydom(HROWS[j]), range=hists[j][6], anchor=f"x{i}",
                                    showticklabels=False, ticks="")

anns = []


def ann(x, y, text, size=19, color="black", angle=0):
    anns.append(dict(x=pxx(x), y=pxy(y), xref="paper", yref="paper", text=text, showarrow=False,
                     xanchor="center", yanchor="middle", textangle=angle,
                     font=dict(family=FONT, size=size, color=color)))


ann(613, 55, "NGC 7469")
ann(1189, 55, "Time Delay")
ann(613, 778, "MJD")
ann(1189, 778, "Time Delay")
for xc, (r0, r1) in ((103, ROWS[0]), (91, ROWS[2]), (91, ROWS[4])):
    ann(xc, (r0 + r1) / 2, "Flux", angle=-90)
for (r0, r1) in (ROWS[1], ROWS[3], ROWS[5]):
    ann(69, (r0 + r1) / 2, "<i>χ</i>", size=21, angle=-90)
ann(238, 182, "u", color=U_COL)
ann(238, 405, "B", color=B_COL)
ann(237, 631, "z", color="#b04a4a")
layout["annotations"] = anns

fig.update_layout(**layout)
fig.write_html("out.html", config={"displayModeBar": False},
               post_script="document.body.style.margin='0px';")
